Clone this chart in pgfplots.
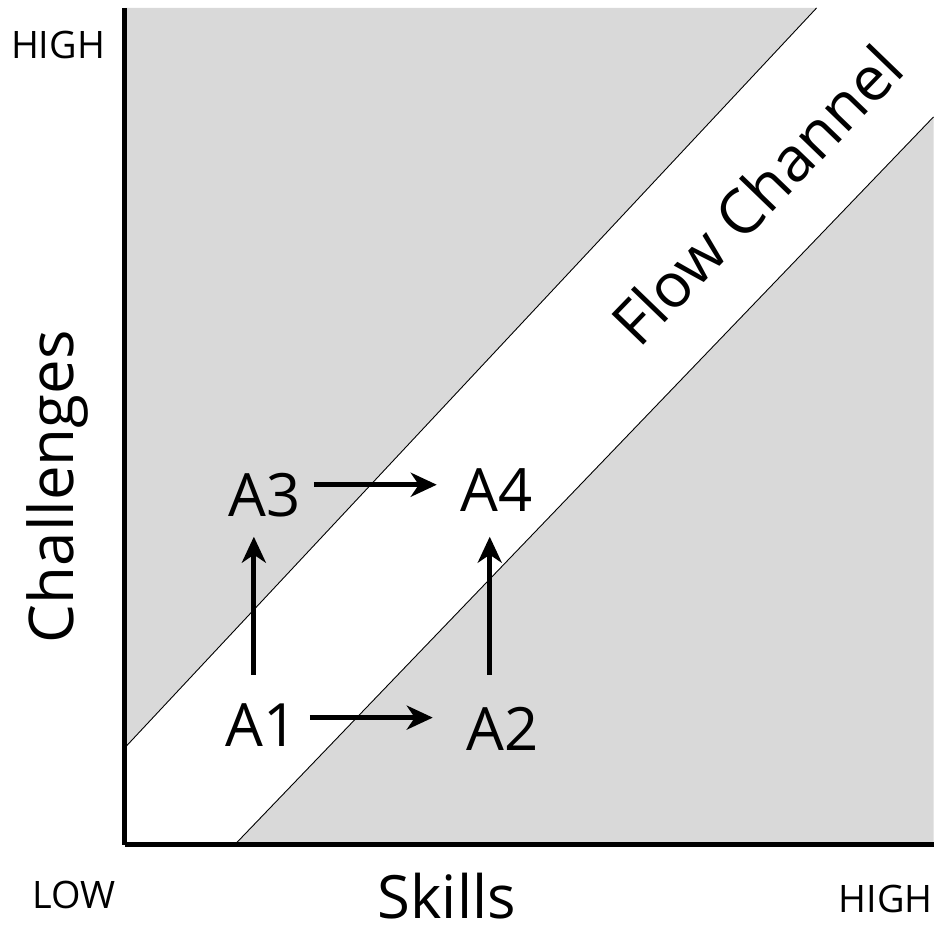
\documentclass[border=0pt]{standalone}
\usepackage{pgfplots}
\pgfplotsset{compat=1.18}
\usepackage{fontspec}
\setmainfont{Open Sans}
\usetikzlibrary{arrows.meta}
\definecolor{bandgray}{RGB}{217,217,217}
\begin{document}
\begin{tikzpicture}[x=1bp,y=1bp]
\begin{axis}[
  scale only axis,
  width=809bp, height=837bp,
  xmin=0, xmax=809, ymin=0, ymax=837,
  axis x line=bottom, axis y line=left,
  axis line style={line width=5bp, -},
  axis on top,
  xtick=\empty, ytick=\empty,
  clip=false,
]
% gray regions
\addplot[fill=bandgray, draw=none] coordinates {(0,97) (0,837) (692,837)} -- cycle;
\addplot[fill=bandgray, draw=none] coordinates {(110,0) (809,0) (809,728)} -- cycle;
% channel boundaries
\addplot[black, line width=0.9bp] coordinates {(0,97) (692,837)};
\addplot[black, line width=0.9bp] coordinates {(110,0) (809,728)};
% arrows
\addplot[black, line width=5bp, -{Stealth[length=26bp,width=24bp,inset=8bp]}] coordinates {(185,127) (308,127)};
\addplot[black, line width=5bp, -{Stealth[length=26bp,width=24bp,inset=8bp]}] coordinates {(189,360) (312,360)};
\addplot[black, line width=5bp, -{Stealth[length=26bp,width=24bp,inset=8bp]}] coordinates {(129,170) (129,308)};
\addplot[black, line width=5bp, -{Stealth[length=26bp,width=24bp,inset=8bp]}] coordinates {(365,170) (365,308)};
% labels
\node[inner sep=0, font=\fontsize{60}{60}\selectfont] at (axis cs:137,120) {A1};
\node[inner sep=0, font=\fontsize{60}{60}\selectfont] at (axis cs:378,116) {A2};
\node[inner sep=0, font=\fontsize{60}{60}\selectfont] at (axis cs:140,350) {A3};
\node[inner sep=0, font=\fontsize{60}{60}\selectfont] at (axis cs:372,355) {A4};
\node[inner sep=0, rotate=46, font=\fontsize{62}{62}\selectfont] at (axis cs:632,650) {Flow Channel};
\node[inner sep=0, rotate=90, font=\fontsize{62}{62}\selectfont] at (axis cs:-68,358) {Challenges};
\node[inner sep=0, font=\fontsize{60}{60}\selectfont] at (axis cs:322,-52) {Skills};
\node[inner sep=0, font=\fontsize{38}{38}\selectfont] at (axis cs:-67,800) {HIGH};
\node[inner sep=0, font=\fontsize{38}{38}\selectfont] at (axis cs:-51,-50) {LOW};
\node[inner sep=0, font=\fontsize{38}{38}\selectfont] at (axis cs:761,-54) {HIGH};
\path (axis cs:-125,-91) (axis cs:809,845);
\end{axis}
\end{tikzpicture}
\end{document}
